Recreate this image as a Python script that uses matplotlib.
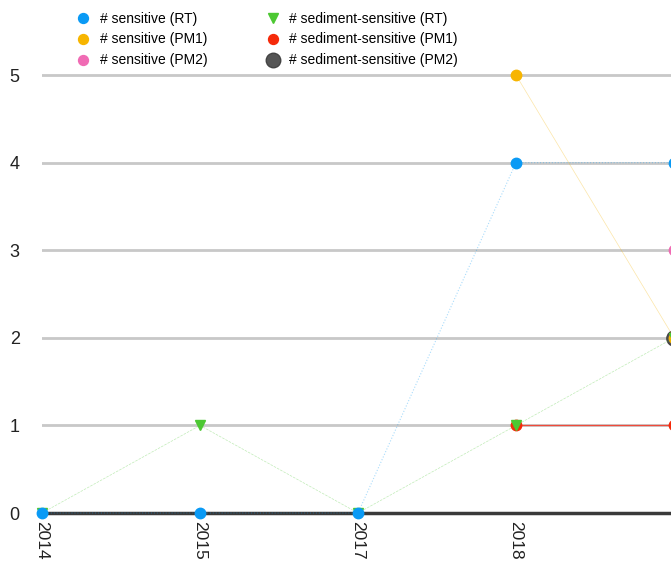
import numpy as np
import matplotlib
matplotlib.use('Agg')
import matplotlib.pyplot as plt

plt.rcParams['font.family'] = ['Liberation Sans', 'DejaVu Sans']

years = ['2014', '2015', '2017', '2018', '2019']
nan = np.nan
sens_rt = [0, 0, 0, 4, 4]
sens_pm1 = [nan, nan, nan, 5, 2]
sens_pm2 = [nan, nan, nan, nan, 3]
sed_rt = [0, 1, 0, 1, 2]
sed_pm1 = [nan, nan, nan, 1, 1]
sed_pm2 = [nan, nan, nan, nan, 2]

fig = plt.figure(figsize=(6.71, 5.62), dpi=100)
# axes run a bit past the right edge, like the original screenshot
ax = fig.add_axes([42 / 671, 1 - 513 / 562, 632 / 671, 508 / 562])

x = np.arange(len(years))

ax.plot(x, sed_pm2, marker='o', color='#222222', markersize=11, linestyle='-',
        linewidth=0.8, label='# sediment-sensitive (PM2)', zorder=3, clip_on=False)
ax.plot(x, sed_pm1, marker='o', color='#f52a0a', markersize=7.5, linestyle='-',
        linewidth=0.9, label='# sediment-sensitive (PM1)', zorder=4, clip_on=False)
ax.plot(x, sens_pm1, marker='o', color='#f7b500', markersize=7.5, linestyle='-',
        linewidth=0.5, label='# sensitive (PM1)', zorder=5, clip_on=False)
ax.plot(x, sens_pm2, marker='o', color='#f06bb4', markersize=7.5, linestyle='-',
        linewidth=0.5, label='# sensitive (PM2)', zorder=5, clip_on=False)
ax.plot(x, sed_rt, marker='v', color='#4cc832', markersize=7.5, linestyle='--',
        linewidth=0.5, label='# sediment-sensitive (RT)', zorder=6, clip_on=False)
ax.plot(x, sens_rt, marker='o', color='#0a9af5', markersize=7.5, linestyle=':',
        linewidth=0.8, label='# sensitive (RT)', zorder=7, clip_on=False)

# fade the connecting lines (markers stay solid)
for ln in ax.get_lines():
    c = matplotlib.colors.to_rgba(ln.get_color())
    ln.set_color((c[0], c[1], c[2], 0.35))
    ln.set_markerfacecolor(c[:3])
    ln.set_markeredgecolor(c[:3])
ax.get_lines()[1].set_color('#f04a3a')
ax.get_lines()[0].set_markerfacecolor('#555555')
ax.get_lines()[0].set_markeredgecolor('#444444')

ax.set_xlim(0, 4)
ax.set_ylim(0, 5.8)
ax.set_yticks([0, 1, 2, 3, 4, 5])
ax.set_xticks(x)
ax.set_xticklabels(years, rotation=270, fontsize=12.5, color='#222222')
ax.tick_params(axis='y', length=0, pad=16, labelsize=13, colors='#222222')
ax.tick_params(axis='x', length=0, pad=6)

ax.grid(axis='y', color='#c8c8c8', linewidth=2)
ax.set_axisbelow(True)
for s in ['top', 'right', 'left']:
    ax.spines[s].set_visible(False)
ax.spines['bottom'].set_color('#3a3a3a')
ax.spines['bottom'].set_linewidth(2.5)

h, l = ax.get_legend_handles_labels()
order = [5, 2, 3, 4, 1, 0]
h = [h[i] for i in order]
l = [l[i] for i in order]
leg = fig.legend(h, l, ncol=2, loc='upper left', bbox_to_anchor=(61 / 671, 1 + 1 / 562),
                 frameon=False, fontsize=10, handlelength=1.4, handletextpad=0.5,
                 columnspacing=4.0, labelspacing=0.5, markerscale=0.95)
for lh in leg.legend_handles:
    lh.set_linestyle('None')

fig.savefig('out.png', dpi=100)
